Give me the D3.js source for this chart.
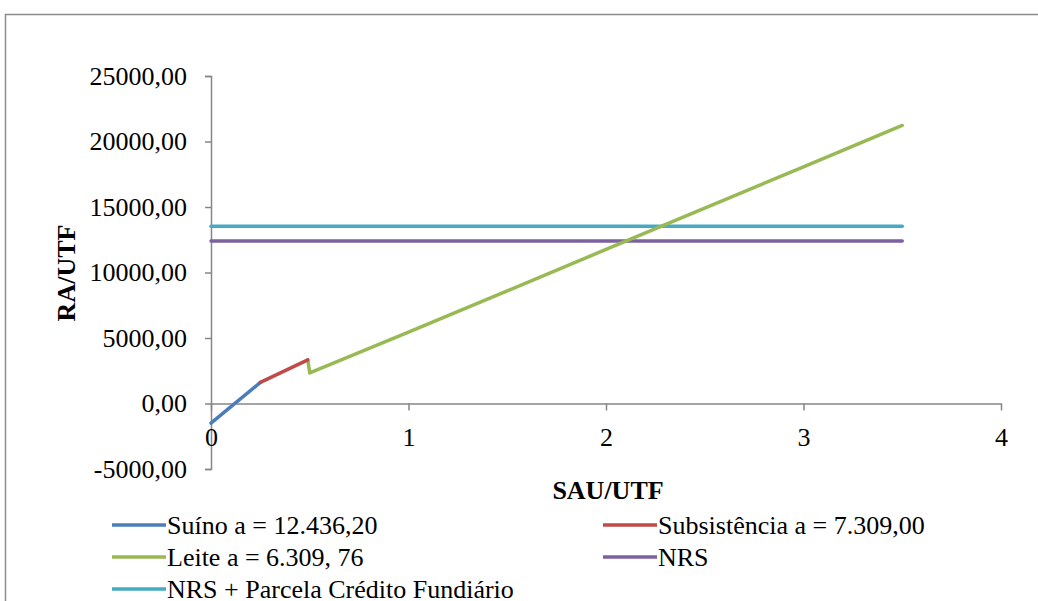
<!DOCTYPE html>
<html>
<head>
<meta charset="utf-8">
<script src="https://cdn.jsdelivr.net/npm/d3@7"></script>
<style>
  html, body { margin: 0; padding: 0; background: #fff; }
  svg { display: block; }
  text { font-family: "Liberation Serif", "Times New Roman", serif; fill: #000; }
</style>
</head>
<body>
<svg id="chart" width="1038" height="601"></svg>
<script>
// Series values (SAU/UTF on x, RA/UTF on y)
const suinoX = [0, 0.25];
const suinoY = [-1500, 1610];
const subsistenciaX = [0.25, 0.49];
const subsistenciaY = [1610, 3330];
const leiteX = [0.49, 0.5, 1, 1.5, 2, 2.5, 3, 3.5];
const leiteY = [3330, 2330, 5450, 8600, 11760, 14920, 18070, 21225];
const nrsX = [0, 3.5];
const nrsY = [12400, 12400];
const nrsParcelaX = [0, 3.5];
const nrsParcelaY = [13540, 13540];

const xTicks = [0, 1, 2, 3, 4];
const yTicks = [-5000, 0, 5000, 10000, 15000, 20000, 25000];

const seriesNames = [
  "Suíno a = 12.436,20",
  "Subsistência a = 7.309,00",
  "Leite a = 6.309, 76",
  "NRS",
  "NRS + Parcela Crédito Fundiário"
];
const seriesColors = ["#4A7EBB", "#BE4B48", "#98B954", "#7D60A0", "#46AAC5"];

const svg = d3.select("#chart");

// chart frame
svg.append("rect")
  .attr("x", 5.5).attr("y", 14.5)
  .attr("width", 1100).attr("height", 700)
  .attr("fill", "none").attr("stroke", "#8c8c8c").attr("stroke-width", 1.5);

const x = d3.scaleLinear().domain([0, 4]).range([211, 1001]);
const y = d3.scaleLinear().domain([-5000, 25000]).range([469, 76]);

const axisColor = "#868686";
const fmt = v => d3.format(".2f")(v).replace(".", ",").replace("\u2212", "-");

// y axis
const yAxis = svg.append("g")
  .attr("transform", `translate(${x(0)},0)`)
  .call(d3.axisLeft(y).tickValues(yTicks).tickSize(6).tickPadding(18).tickFormat(fmt));
yAxis.select(".domain").attr("stroke", axisColor).attr("stroke-width", 1.5);
yAxis.selectAll(".tick line").attr("stroke", axisColor).attr("stroke-width", 1.5);
yAxis.selectAll(".tick text")
  .style("font-family", "'Liberation Serif', serif")
  .style("font-size", "26px").attr("fill", "#000");

// x axis at zero level
const xAxis = svg.append("g")
  .attr("transform", `translate(0,${y(0)})`)
  .call(d3.axisBottom(x).tickValues(xTicks).tickSize(7).tickSizeOuter(0).tickPadding(14).tickFormat(d3.format("d")));
xAxis.select(".domain").attr("stroke", axisColor).attr("stroke-width", 1.5);
xAxis.selectAll(".tick line").attr("stroke", axisColor).attr("stroke-width", 1.5);
xAxis.selectAll(".tick text")
  .style("font-family", "'Liberation Serif', serif")
  .style("font-size", "26px").attr("fill", "#000")
  .attr("dy", "0.35em").attr("y", 33);

// axis titles
svg.append("text")
  .attr("x", 608).attr("y", 490).attr("text-anchor", "middle").attr("dy", "0.35em")
  .style("font-size", "26px").style("font-weight", "bold")
  .text("SAU/UTF");
svg.append("text")
  .attr("transform", "translate(66,273) rotate(-90)")
  .attr("text-anchor", "middle").attr("dy", "0.35em")
  .style("font-size", "26px").style("font-weight", "bold")
  .text("RA/UTF");

// lines
const line = d3.line().x(d => x(d[0])).y(d => y(d[1]));
const series = [
  [suinoX, suinoY],
  [subsistenciaX, subsistenciaY],
  [leiteX, leiteY],
  [nrsX, nrsY],
  [nrsParcelaX, nrsParcelaY]
];
// draw order: horizontal reference lines underneath the curves
[3, 4, 2, 0, 1].forEach(i => {
  const [xs, ys] = series[i];
  svg.append("path")
    .datum(d3.zip(xs, ys))
    .attr("d", line)
    .attr("fill", "none")
    .attr("stroke", seriesColors[i])
    .attr("stroke-width", 3.5)
    .attr("stroke-linecap", "round")
    .attr("stroke-linejoin", "round");
});

// legend
const legendPos = [
  [112, 525], [603, 525],
  [112, 557], [603, 557],
  [112, 589]
];
seriesNames.forEach((name, i) => {
  const [lx, ly] = legendPos[i];
  svg.append("line")
    .attr("x1", lx).attr("x2", lx + 54)
    .attr("y1", ly).attr("y2", ly)
    .attr("stroke", seriesColors[i]).attr("stroke-width", 3.5);
  svg.append("text")
    .attr("x", lx + 55).attr("y", ly).attr("dy", "0.35em")
    .style("font-size", "26px")
    .text(name);
});
</script>
</body>
</html>
